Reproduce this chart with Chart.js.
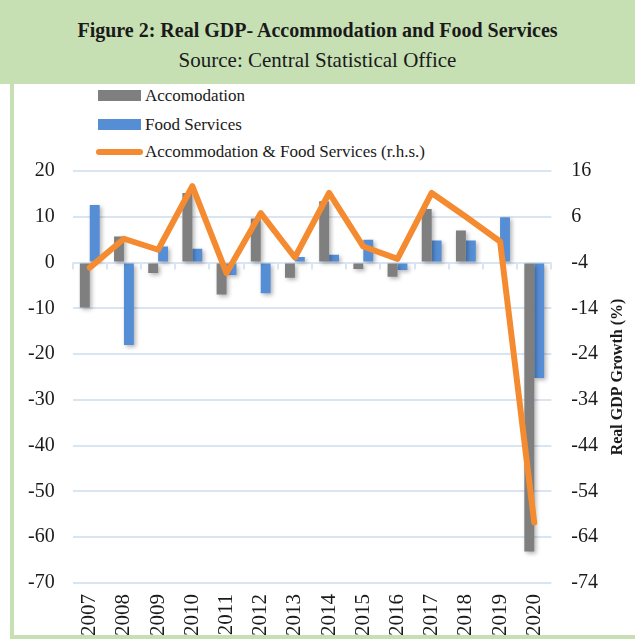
<!DOCTYPE html>
<html>
<head>
<meta charset="utf-8">
<script src="https://cdn.jsdelivr.net/npm/chart.js@4.4.0/dist/chart.umd.min.js"></script>
<style>
  body { margin: 0; background: #fff; }
  #wrap { position: relative; width: 635px; height: 639px; overflow: hidden; font-family: "Liberation Serif", serif; color: #1a1a1a; }
  #head { position: absolute; left: 0; top: 0; width: 635px; height: 84px; background: #c6e0b4; }
  #head div { position: absolute; width: 100%; text-align: center; }
  #title { top: 19px; font-size: 20px; font-weight: bold; }
  #sub { top: 48px; font-size: 21px; }
  #lborder { position: absolute; left: 10px; top: 84px; width: 4px; height: 555px; background: #c6e0b4; }
  #bborder { position: absolute; left: 10px; top: 635px; width: 625px; height: 4px; background: #c6e0b4; }
  #legend { position: absolute; left: 98px; top: 84px; font-size: 17px; }
  .row { position: absolute; left: 0; height: 20px; white-space: nowrap; }
  .sw { position: absolute; left: 0; }
  .lab { position: absolute; left: 47px; top: 0; line-height: 20px; }
  #c { position: absolute; left: 0; top: 0; }
</style>
</head>
<body>
<div id="wrap">
  <div id="head">
    <div id="title">Figure 2: Real GDP- Accommodation and Food Services</div>
    <div id="sub">Source: Central Statistical Office</div>
  </div>
  <div id="lborder"></div>
  <div id="bborder"></div>
  <div id="legend"></div>
  <canvas id="c" width="635" height="639"></canvas>
</div>
<script>
var years = ['2007', '2008', '2009', '2010', '2011', '2012', '2013', '2014', '2015', '2016', '2017', '2018', '2019', '2020'];
var accommodation = [-9.8, 5.7, -2.3, 15.2, -7.0, 9.6, -3.3, 13.4, -1.4, -3.1, 11.7, 7.0, 0, -63.1];
var foodServices = [12.6, -18.0, 3.5, 3.0, -2.7, -6.7, 1.2, 1.7, 5.0, -1.6, 4.8, 4.8, 9.9, -25.2];
var combined = [-5.1, 1.2, -1.2, 12.7, -6.3, 6.8, -2.9, 11.2, -0.5, -3.2, 11.2, 6.0, 0.6, -60.8];

var leftTicks = { min: -70, max: 20, step: 10 };
var rightTicks = { min: -74, max: 16, step: 10 };

var seriesNames = ['Accomodation', 'Food Services', 'Accommodation & Food Services (r.h.s.)'];
var grey = '#7f7f7f';
var blue = '#558ed5';
var orange = '#f58b30';
var gridColor = '#dae5f4';
var font = '"Liberation Serif", serif';

// legend, built by hand because it sits top-left in a column
var legend = document.getElementById('legend');
var rowTops = [2, 31, 58];
[grey, blue, orange].forEach(function (col, i) {
    var row = document.createElement('div');
    row.className = 'row';
    row.style.top = rowTops[i] + 'px';
    var sw = document.createElement('div');
    sw.className = 'sw';
    if (i < 2) {
        sw.style.cssText = 'top:4px;width:43px;height:11px;background:' + col;
    } else {
        sw.style.cssText = 'top:7px;left:-2px;width:47px;height:6px;border-radius:3px;background:' + col;
    }
    var lab = document.createElement('div');
    lab.className = 'lab';
    lab.textContent = seriesNames[i];
    row.appendChild(sw);
    row.appendChild(lab);
    legend.appendChild(row);
});

var barShadow = {
    id: 'barShadow',
    beforeDatasetDraw: function (chart, args) {
        if (args.meta.type !== 'bar') return;
        var ctx = chart.ctx;
        ctx.save();
        ctx.shadowColor = 'rgba(0,0,0,0.3)';
        ctx.shadowBlur = 4;
        ctx.shadowOffsetX = 2;
        ctx.shadowOffsetY = 2;
    },
    afterDatasetDraw: function (chart, args) {
        if (args.meta.type !== 'bar') return;
        chart.ctx.restore();
    }
};

var zeroTicks = {
    id: 'zeroTicks',
    beforeDatasetsDraw: function (chart) {
        var ctx = chart.ctx;
        var x = chart.scales.x;
        var y0 = chart.scales.y.getPixelForValue(0);
        var w = (x.right - x.left) / years.length;
        ctx.save();
        ctx.strokeStyle = gridColor;
        ctx.lineWidth = 2;
        ctx.beginPath();
        for (var i = 0; i <= years.length; i++) {
            var px = Math.round(x.left + i * w);
            ctx.moveTo(px, y0);
            ctx.lineTo(px, y0 + 7);
        }
        ctx.stroke();
        ctx.restore();
    }
};

var rightTitle = {
    id: 'rightTitle',
    afterDraw: function (chart) {
        var s = chart.scales.y1;
        var ctx = chart.ctx;
        ctx.save();
        ctx.translate(618, (s.top + s.bottom) / 2);
        ctx.rotate(-Math.PI / 2);
        ctx.font = 'bold 16px ' + font;
        ctx.fillStyle = '#1a1a1a';
        ctx.textAlign = 'center';
        ctx.textBaseline = 'middle';
        ctx.fillText('Real GDP Growth (%)', 0, 0);
        ctx.restore();
    }
};

new Chart(document.getElementById('c'), {
    data: {
        labels: years,
        datasets: [{
            type: 'line',
            label: seriesNames[2],
            data: combined,
            yAxisID: 'y1',
            borderColor: orange,
            borderWidth: 6,
            borderJoinStyle: 'round',
            borderCapStyle: 'round',
            pointRadius: 0,
            tension: 0,
            order: 0
        }, {
            type: 'bar',
            label: seriesNames[0],
            data: accommodation,
            yAxisID: 'y',
            backgroundColor: grey,
            categoryPercentage: 0.58,
            barPercentage: 1,
            order: 1
        }, {
            type: 'bar',
            label: seriesNames[1],
            data: foodServices,
            yAxisID: 'y',
            backgroundColor: blue,
            categoryPercentage: 0.58,
            barPercentage: 1,
            order: 1
        }]
    },
    options: {
        responsive: false,
        animation: false,
        layout: { padding: { top: 171, left: 10, right: 17, bottom: 0 } },
        plugins: { legend: { display: false }, tooltip: { enabled: false } },
        scales: {
            x: {
                grid: { display: false },
                border: { display: false },
                ticks: { color: '#1a1a1a', font: { family: font, size: 21 }, minRotation: 90, maxRotation: 90, padding: 3 }
            },
            y: {
                position: 'left',
                min: leftTicks.min,
                max: leftTicks.max,
                grid: { color: gridColor, lineWidth: 2, drawTicks: false },
                border: { display: false },
                ticks: { stepSize: leftTicks.step, color: '#1a1a1a', font: { family: font, size: 20 }, padding: 18 }
            },
            y1: {
                position: 'right',
                min: rightTicks.min,
                max: rightTicks.max,
                grid: { display: false, drawTicks: false },
                border: { display: false },
                ticks: { stepSize: rightTicks.step, color: '#1a1a1a', font: { family: font, size: 20 }, padding: 20 }
            }
        }
    },
    plugins: [barShadow, zeroTicks, rightTitle]
});
</script>
</body>
</html>
